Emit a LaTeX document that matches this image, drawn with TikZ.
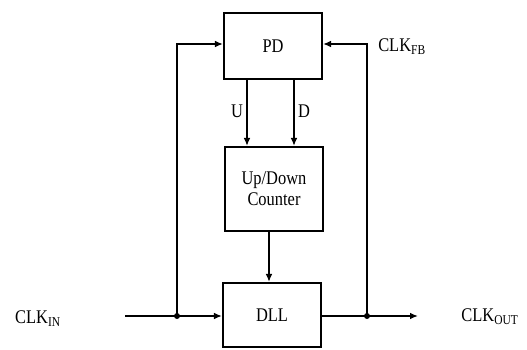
\documentclass[tikz,border=0pt]{standalone}
\usepackage{fontspec}
\setmainfont[FakeStretch=0.85]{Liberation Serif}
\usetikzlibrary{arrows.meta,calc}

\begin{document}
\begin{tikzpicture}[x=0.75pt,y=-0.75pt,
  block/.style={draw=black,line width=1.6pt,minimum width=73.5pt,inner sep=0pt,align=center,font=\fontsize{14.5}{16}\selectfont},
  wire/.style={line width=1.1pt,-{Latex[length=6pt,width=5pt]}},
  lbl/.style={font=\fontsize{14.5}{16}\selectfont,inner sep=0pt}]
\useasboundingbox (0,0) rectangle (527,349);

\node[block,minimum height=49.5pt] (pd) at (273,46) {PD};
\node[block,minimum height=63pt] (counter) at (274,189) {Up/Down\\Counter};
\node[block,minimum height=48pt] (dll) at (272,315) {DLL};

\coordinate (in) at (125,316);
\coordinate (jin) at (177,316);
\coordinate (jout) at (367,316);
\coordinate (out) at (418,316);

\draw[wire] (in) -- (in -| dll.west);
\draw[wire] (dll.east |- out) -- (out);
\fill (jin) circle (3);
\fill (jout) circle (3);

\draw[wire] (jin) |- ($(pd.west)+(0,-2)$);
\draw[wire] (jout) |- ($(pd.east)+(0,-2)$);

\draw[wire] (247,0 |- pd.south) -- (247,0 |- counter.north);
\draw[wire] (294,0 |- pd.south) -- (294,0 |- counter.north);
\draw[wire] (counter.south -| 269,0) -- (dll.north -| 269,0);

\node[lbl] (u) at (237,111) {U};
\node[lbl] (d) at (304,111) {D};
\node[lbl,anchor=west] (clkfb) at (378,47) {CLK\textsubscript{FB}};
\node[lbl] (clkin) at (38,319) {CLK\textsubscript{IN}};
\node[lbl] (clkout) at (490,317) {CLK\textsubscript{OUT}};
\end{tikzpicture}
\end{document}
